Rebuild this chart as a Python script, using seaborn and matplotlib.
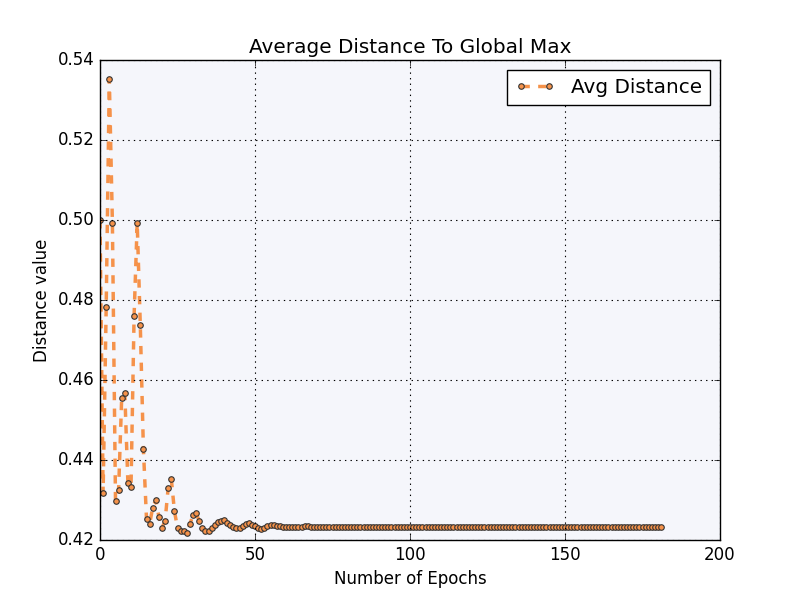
import numpy as np
import pandas as pd
import matplotlib
matplotlib.use("Agg")
import matplotlib.pyplot as plt
import seaborn as sns

early = [0.500, 0.4317, 0.4783, 0.5352, 0.4993, 0.4298, 0.4325, 0.4556, 0.4567, 0.4343,
         0.4333, 0.4761, 0.4993, 0.4737, 0.4427, 0.4253, 0.4240, 0.4281, 0.4300, 0.4258,
         0.4230, 0.4248, 0.4331, 0.4353, 0.4273, 0.4230, 0.4222, 0.4222, 0.4218, 0.4240,
         0.4262, 0.4267, 0.4248, 0.4231, 0.4223, 0.4223, 0.4230, 0.4238, 0.4246, 0.4248,
         0.4250, 0.4243, 0.4238, 0.4233, 0.4231, 0.4231, 0.4234, 0.4240, 0.4242, 0.4238,
         0.4234, 0.4231, 0.4228, 0.4230, 0.4235, 0.4237, 0.4238, 0.4236, 0.4234, 0.4232,
         0.4232, 0.4232, 0.4232, 0.4232, 0.4232, 0.4232, 0.4234, 0.4234]
late = [0.4232] * (182 - len(early))
distance = early + late
epochs = list(range(len(distance)))

df = pd.DataFrame({"epoch": epochs, "distance": distance})

plt.style.use("classic")
fig, ax = plt.subplots(figsize=(8, 6), dpi=100)
ax.set_facecolor("#f5f6fb")

sns.lineplot(data=df, x="epoch", y="distance", ax=ax, color="#f5924a",
             linestyle="--", linewidth=2.5, marker="o", markersize=4,
             markerfacecolor="#f5924a", markeredgecolor="#333333",
             markeredgewidth=0.8, label="Avg Distance")

ax.set_xlim(0, 200)
ax.set_ylim(0.42, 0.54)
ax.set_xticks([0, 50, 100, 150, 200])
ax.grid(True, color="black", linestyle=":", linewidth=0.8)
ax.set_title("Average Distance To Global Max")
ax.set_xlabel("Number of Epochs")
ax.set_ylabel("Distance value")
ax.legend(loc="upper right")

plt.savefig("out.png", dpi=100)
